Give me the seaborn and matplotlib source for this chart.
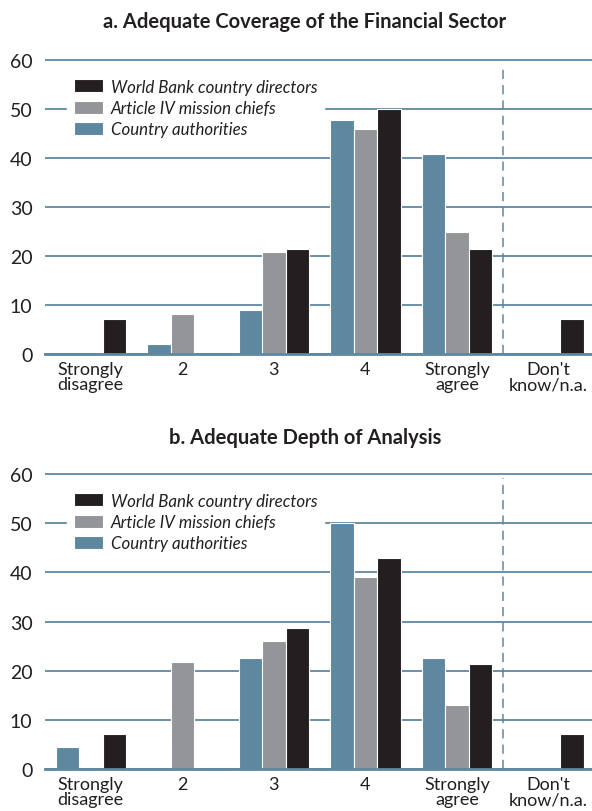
import matplotlib
matplotlib.use("Agg")
import matplotlib.pyplot as plt
import numpy as np
import pandas as pd
import seaborn as sns

# Survey response categories (x axis)
CATEGORIES = ["Strongly\ndisagree", "2", "3", "4", "Strongly\nagree", "Don't\nknow/n.a."]
GROUPS = ["Country authorities", "Article IV mission chiefs", "World Bank country directors"]

# Panel a: adequate coverage of the financial sector (percent of respondents)
COVERAGE_AUTHORITIES = [0, 2.0, 9.0, 47.8, 40.8, 0]
COVERAGE_ART4 = [0, 8.2, 20.9, 45.9, 24.9, 0]
COVERAGE_WB = [7.1, 0, 21.4, 50.0, 21.4, 7.1]

# Panel b: adequate depth of analysis
DEPTH_AUTHORITIES = [4.4, 0, 22.6, 50.0, 22.6, 0]
DEPTH_ART4 = [0, 21.7, 26.0, 39.0, 13.1, 0]
DEPTH_WB = [7.1, 0, 28.6, 42.9, 21.4, 7.1]

TITLES = ["a. Adequate Coverage of the Financial Sector", "b. Adequate Depth of Analysis"]

BLUE = "#5e87a0"
GRAY = "#949599"
BLACK = "#231f20"
TEXT = "#231f20"
PALETTE = {GROUPS[0]: BLUE, GROUPS[1]: GRAY, GROUPS[2]: BLACK}


def to_long(authorities, art4, wb):
    rows = []
    for grp, vals in zip(GROUPS, [authorities, art4, wb]):
        for cat, v in zip(CATEGORIES, vals):
            rows.append({"category": cat, "group": grp, "value": v})
    return pd.DataFrame(rows)


sns.set_theme(style="white")
plt.rcParams["font.family"] = ["Lato", "DejaVu Sans"]

W, H = 592, 812
fig = plt.figure(figsize=(W / 100, H / 100), dpi=100)

# axes boxes in pixels: (left, y of zero, y of 60)
boxes = [(45, 355, 61), (45, 770, 475)]
title_y = [22, 438]
datasets = [
    (COVERAGE_AUTHORITIES, COVERAGE_ART4, COVERAGE_WB),
    (DEPTH_AUTHORITIES, DEPTH_ART4, DEPTH_WB),
]

for (left, y0, y60), ty, title, data in zip(boxes, title_y, TITLES, datasets):
    ymax = 60.6
    px_per_unit = (y0 - y60) / 60.0
    top_px = y0 - ymax * px_per_unit
    ax = fig.add_axes([left / W, 1 - y0 / H, 1 - left / W + 0.004, (y0 - top_px) / H])

    df = to_long(*data)
    sns.barplot(
        data=df, x="category", y="value", hue="group",
        order=CATEGORIES, hue_order=GROUPS, palette=PALETTE,
        width=0.77, saturation=1, edgecolor="white", linewidth=0.8,
        errorbar=None, ax=ax,
    )

    ax.set_xlim(-0.5, 5.5)
    ax.set_ylim(0, ymax)
    ax.set_yticks(np.arange(0, 61, 10))
    ax.set_axisbelow(True)
    ax.yaxis.grid(True, color=BLUE, linewidth=1.3)
    ax.xaxis.grid(False)
    for side in ["left", "right", "top"]:
        ax.spines[side].set_visible(False)
    ax.spines["bottom"].set_color(BLUE)
    ax.spines["bottom"].set_linewidth(2)

    ax.set_xlabel("")
    ax.set_ylabel("")
    ax.tick_params(axis="y", length=0, pad=9, labelsize=14, labelcolor=TEXT)
    ax.tick_params(axis="x", which="major", length=0, pad=5, labelsize=13, labelcolor=TEXT)
    ax.set_xticks(np.arange(-0.5, 4.0, 1.0), minor=True)
    ax.tick_params(axis="x", which="minor", direction="in", length=6, width=1, color=BLUE)
    for lab in ax.get_xticklabels():
        lab.set_linespacing(0.95)

    ax.axvline(4.5, ymin=0, ymax=59.2 / ymax, color=BLUE, linewidth=1.1, linestyle=(0, (6, 4)))

    handles, labels = ax.get_legend_handles_labels()
    leg = ax.legend(
        handles[::-1], labels[::-1], loc="upper left",
        bbox_to_anchor=(0.04, 1 - 15 / (y0 - top_px)),
        frameon=True, fancybox=False, framealpha=1, edgecolor="white",
        prop={"style": "italic", "size": 12.2}, handlelength=1.7, handleheight=0.8,
        handletextpad=0.5, labelspacing=0.3, borderpad=0.4, borderaxespad=0,
    )
    for t in leg.get_texts():
        t.set_color(TEXT)

    fig.text(305 / W, 1 - ty / H, title, ha="center", va="center",
             fontsize=14.5, fontweight="bold", color=TEXT)

fig.savefig("out.png", dpi=100)
